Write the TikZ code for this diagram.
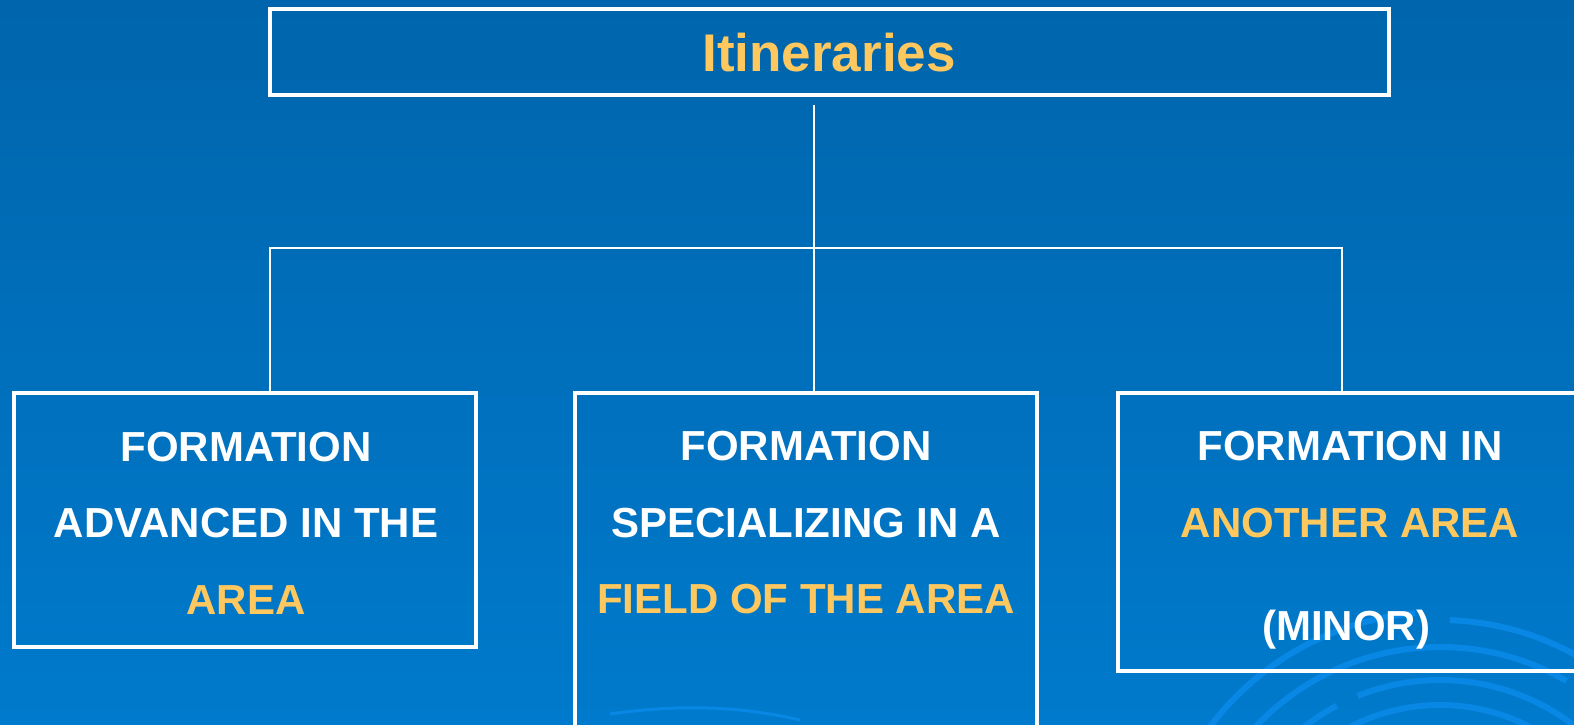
\documentclass[tikz,border=0pt]{standalone}
\usepackage{fontspec}
\setmainfont{Liberation Sans}
\definecolor{bgtop}{HTML}{0065AC}
\definecolor{bgbot}{HTML}{007ACC}
\definecolor{gold}{HTML}{FFC85F}
\definecolor{arccol}{HTML}{0888E4}
\tikzset{
  box/.style={draw=white, line width=4pt, rectangle, inner sep=0pt},
  conn/.style={draw=white, line width=2pt},
  lbl/.style={anchor=base, inner sep=0pt, text=white, font=\fontsize{42}{50}\selectfont\bfseries},
  glbl/.style={lbl, text=gold},
  deco/.style={draw=arccol, line width=6pt}
}
\begin{document}
\begin{tikzpicture}[x=1pt,y=1pt]
\useasboundingbox (0,0) rectangle (1574,-724);
\clip (0,0) rectangle (1574,-724);
\shade[top color=bgtop, bottom color=bgbot] (0,0) rectangle (1574,-724);
% decorative arcs
\draw[deco] (1440,-900) ++(150:288) arc[start angle=150, end angle=95, radius=288];
\draw[deco] (1440,-900) ++(88:280) arc[start angle=88, end angle=40, radius=280];
\draw[deco] (1440,-900) ++(140:253) arc[start angle=140, end angle=60, radius=253];
\draw[deco] (1440,-900) ++(130:220) arc[start angle=130, end angle=118, radius=220];
\draw[deco] (1440,-900) ++(112:220) arc[start angle=112, end angle=50, radius=220];
\draw[deco] (1440,-900) ++(135:195) arc[start angle=135, end angle=60, radius=195];
\draw[deco] (1440,-900) ++(120:170) arc[start angle=120, end angle=60, radius=170];
\draw[draw=arccol, line width=3pt] (610,-714) .. controls (680,-704) and (740,-706) .. (800,-720);
% boxes
\node[box, minimum width=1119pt, minimum height=86pt] (top) at (829.5,-52) {};
\node[box, minimum width=462pt, minimum height=254pt] (left) at (245,-520) {};
\node[box, minimum width=462pt, minimum height=367pt] (mid) at (806,-576.5) {};
\node[box, minimum width=582pt, minimum height=278pt] (right) at (1409,-532) {};
% title
\node[glbl, font=\fontsize{53}{60}\selectfont\bfseries] (title) at (829,-71) {Itineraries};
% connectors
\coordinate (tstart) at (814,-105);
\coordinate (jmid) at (814,-248);
\coordinate (jleft) at (270,-248);
\coordinate (jright) at (1342,-248);
\coordinate (eleft) at (270,-391);
\coordinate (emid) at (814,-391);
\coordinate (eright) at (1342,-391);
\draw[conn] (tstart) -- (jmid);
\draw[conn, line cap=rect] (jleft) -- (jright);
\draw[conn] (jleft) -- (eleft);
\draw[conn] (jmid) -- (emid);
\draw[conn] (jright) -- (eright);
% left text
\node[lbl] (l1) at (246,-461) {FORMATION};
\node[lbl] (l2) at (246,-537) {ADVANCED IN THE};
\node[glbl] (l3) at (246,-614) {AREA};
% middle text
\node[lbl] (m1) at (806,-460) {FORMATION};
\node[lbl] (m2) at (806,-537) {SPECIALIZING IN A};
\node[glbl] (m3) at (806,-613) {FIELD OF THE AREA};
% right text
\node[lbl] (r1) at (1350,-460) {FORMATION IN};
\node[glbl] (r2) at (1350,-537) {ANOTHER AREA};
\node[lbl] (r3) at (1346,-640) {(MINOR)};
\end{tikzpicture}
\end{document}
